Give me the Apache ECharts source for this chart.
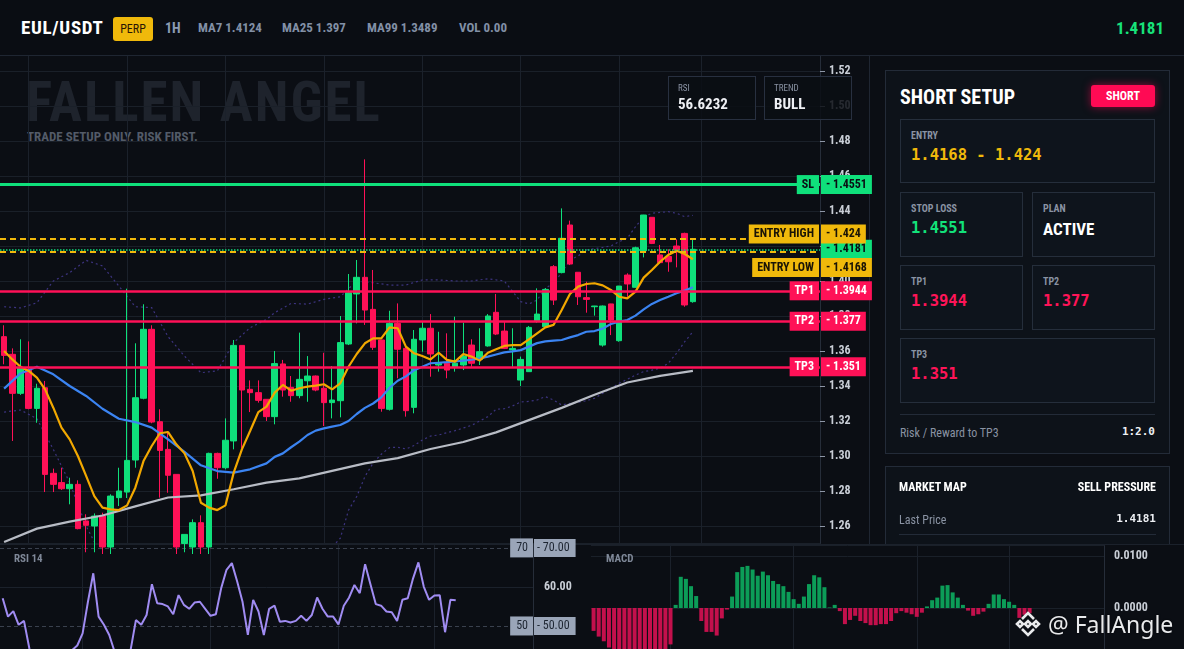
<!DOCTYPE html>
<html>
<head>
<meta charset="utf-8">
<title>EUL/USDT short setup</title>
<script src="https://cdn.jsdelivr.net/npm/echarts@6.0.0/dist/echarts.min.js"></script>
<style>
  html, body { margin: 0; padding: 0; }
  body {
    width: 1184px; height: 649px; overflow: hidden; position: relative;
    background: #0b0e14;
    font-family: "Liberation Sans Narrow", "Roboto Condensed", Roboto, sans-serif;
    color: #e8ebf0;
  }
  /* taller than the window on purpose: the lower panels run past the bottom edge */
  #chart { position: absolute; left: 0; top: 0; width: 1184px; height: 700px; z-index: 2; }

  #header { position: absolute; left: 0; top: 0; width: 1184px; height: 55px; background: #0a0d13; border-bottom: 1px solid #1f2632; z-index: 5; }
  .hd { position: absolute; top: 0; line-height: 56px; white-space: nowrap; }
  #pair { left: 21px; font-size: 19px; font-weight: bold; color: #fff; letter-spacing: 0.7px; }
  #perp { left: 113px; top: 17px; width: 40px; height: 24px; line-height: 24px; text-align: center; background: #f0b90b; border-radius: 3px; font-size: 12px; color: #2a1505; }
  #tf { left: 165px; font-size: 14px; font-weight: bold; color: #8b9bb3; }
  .ma { font-size: 13px; font-weight: bold; color: #8290a6; }
  #lastTop { right: 20px; font-size: 17px; font-weight: bold; color: #17e27a; }

  #frameV { position: absolute; left: 869px; top: 56px; width: 1px; height: 488px; background: #1f2632; z-index: 1; }
  #frameH { position: absolute; left: 0; top: 544px; width: 1184px; height: 1px; background: #1b212b; z-index: 1; }

  #wmBig { position: absolute; left: 26px; top: 72px; font-size: 55px; line-height: 60px; font-weight: bold; color: #1e232c; letter-spacing: 2px; z-index: 1; white-space: nowrap; }
  #wmSmall { position: absolute; left: 27px; top: 129px; font-size: 13px; line-height: 16px; font-weight: bold; color: #535b68; z-index: 1; white-space: nowrap; }

  .stat { position: absolute; top: 76px; width: 86px; height: 42px; border: 1px solid #283040; background: rgba(11,14,20,0.86); z-index: 3; }
  .stat .k { position: absolute; left: 9px; top: 6px; font-size: 9px; color: #8a93a3; }
  .stat .v { position: absolute; left: 9px; top: 18px; font-size: 15px; font-weight: bold; color: #eef0f4; }

  #side { position: absolute; left: 871px; top: 56px; width: 313px; height: 488px; overflow: hidden; z-index: 3; }
  .card { position: absolute; left: 14px; width: 283px; background: #0d1219; border: 1px solid #232b38; }
  .box { position: absolute; background: #0e141c; border: 1px solid #252e3b; }
  .lbl { position: absolute; left: 10px; top: 9px; font-size: 10px; line-height: 14px; color: #8a93a3; font-weight: bold; }
  .val { position: absolute; left: 10px; top: 26px; line-height: 20px; font: bold 15.5px "DejaVu Sans Mono", monospace; }
  .yel { color: #f0b90b; } .grn { color: #12e27a; } .red { color: #ff1458; }
  #title { position: absolute; left: 14px; top: 14px; font-size: 20px; line-height: 24px; font-weight: bold; color: #fff; }
  #btn { position: absolute; left: 205px; top: 14px; width: 64px; height: 22px; line-height: 22px; text-align: center; background: #ff0a54; border-radius: 3px; font-size: 12px; font-weight: bold; color: #fff; box-shadow: 0 0 8px rgba(255,10,84,0.55); }
  .sep { position: absolute; left: 14px; width: 255px; height: 1px; background: #232b38; }
  .row { position: absolute; font-size: 12px; line-height: 16px; white-space: nowrap; }
  .mono { font: bold 11px "DejaVu Sans Mono", monospace; color: #eef0f4; }

  .panelTag { position: absolute; font-size: 11px; color: #7f8898; z-index: 3; font-weight: bold; }
  #brand { position: absolute; left: 1014px; top: 606px; height: 36px; z-index: 6; white-space: nowrap; }
  #brand svg { position: absolute; left: 0; top: 4px; }
  #brand span { position: absolute; left: 34px; top: 0; font-family: "Noto Sans", "Open Sans", sans-serif; font-size: 23px; line-height: 36px; color: #e9eaec; text-shadow: 0 0 2px rgba(0,0,0,0.6); }
</style>
</head>
<body>

<div id="header">
  <div class="hd" id="pair">EUL/USDT</div>
  <div class="hd" id="perp">PERP</div>
  <div class="hd" id="tf">1H</div>
  <div class="hd ma" style="left:198px">MA7 1.4124</div>
  <div class="hd ma" style="left:282px">MA25 1.397</div>
  <div class="hd ma" style="left:367px">MA99 1.3489</div>
  <div class="hd ma" style="left:459px">VOL 0.00</div>
  <div class="hd" id="lastTop">1.4181</div>
</div>

<div id="wmBig">FALLEN ANGEL</div>
<div id="wmSmall">TRADE SETUP ONLY. RISK FIRST.</div>
<div id="frameV"></div>
<div id="frameH"></div>

<div class="stat" style="left:668px"><div class="k">RSI</div><div class="v">56.6232</div></div>
<div class="stat" style="left:764px"><div class="k">TREND</div><div class="v">BULL</div></div>

<div id="side">
  <div class="card" style="top:14px;height:382px;">
    <div id="title">SHORT SETUP</div>
    <div id="btn">SHORT</div>
    <div class="box" style="left:14px;top:48px;width:253px;height:62px;"><div class="lbl">ENTRY</div><div class="val yel" id="vEntry"></div></div>
    <div class="box" style="left:14px;top:121px;width:121px;height:63px;"><div class="lbl">STOP LOSS</div><div class="val grn" id="vSL"></div></div>
    <div class="box" style="left:146px;top:121px;width:121px;height:63px;"><div class="lbl">PLAN</div><div class="val" style="font:bold 17px 'Liberation Sans Narrow','Roboto Condensed',Roboto,sans-serif;color:#fff;">ACTIVE</div></div>
    <div class="box" style="left:14px;top:194px;width:121px;height:63px;"><div class="lbl">TP1</div><div class="val red" id="vTP1"></div></div>
    <div class="box" style="left:146px;top:194px;width:121px;height:63px;"><div class="lbl">TP2</div><div class="val red" id="vTP2"></div></div>
    <div class="box" style="left:14px;top:267px;width:253px;height:63px;"><div class="lbl">TP3</div><div class="val red" id="vTP3"></div></div>
    <div class="sep" style="top:343px"></div>
    <div class="row" style="left:14px;top:354px;color:#8a93a3;">Risk / Reward to TP3</div>
    <div class="row mono" style="right:14px;top:354px;">1:2.0</div>
  </div>
  <div class="card" style="top:410px;height:120px;">
    <div class="row" style="left:13px;top:12px;font-weight:bold;color:#fff;">MARKET MAP</div>
    <div class="row" style="right:13px;top:12px;font-weight:bold;color:#fff;">SELL PRESSURE</div>
    <div class="row" style="left:13px;top:45px;color:#8a93a3;">Last Price</div>
    <div class="row mono" style="right:13px;top:45px;" id="vLast"></div>
    <div class="sep" style="top:67px;left:13px;width:257px;"></div>
  </div>
</div>

<div class="panelTag" style="left:14px;top:552px;">RSI 14</div>
<div class="panelTag" style="left:606px;top:552px;">MACD</div>

<div id="brand">
  <svg width="28" height="28" viewBox="0 0 28 28">
    <g fill="none" stroke="#e9eaec" stroke-width="2.6" stroke-linejoin="miter">
      <path d="M8 9 L14 3 L20 9"/>
      <path d="M8 19 L14 25 L20 19"/>
      <path d="M3 14 L6 11 L9 14 L6 17 Z"/>
      <path d="M19 14 L22 11 L25 14 L22 17 Z"/>
      <path d="M11 14 L14 11 L17 14 L14 17 Z"/>
    </g>
  </svg>
  <span>@ FallAngle</span>
</div>

<div id="chart"></div>

<script>
// ---- candles (1H), index 0 = leftmost visible candle
var opens = [1.3682,1.3581,1.3358,1.3491,1.3272,1.3390,1.2901,1.2848,1.2813,1.2838,
  1.2629,1.2600,1.2657,1.2480,1.2762,1.2794,1.2977,1.3330,1.3724,1.3196,
  1.3038,1.2895,1.2500,1.2480,1.2619,1.2480,1.3015,1.2933,1.3086,1.3632,
  1.3381,1.3362,1.3324,1.3225,1.3526,1.3392,1.3345,1.3430,1.3457,1.3387,
  1.3305,1.3316,1.3640,1.3926,1.4021,1.3838,1.3663,1.3267,1.3758,1.3615,
  1.3278,1.3663,1.3730,1.3520,1.3530,1.3507,1.3520,1.3634,1.3552,1.3629,
  1.3821,1.3714,1.3606,1.3434,1.3482,1.3773,1.3739,1.4082,1.4048,1.4320,
  1.4050,1.3905,1.3853,1.3634,1.3869,1.3659,1.4034,1.3964,1.4173,1.4364,
  1.4149,1.4140,1.4200,1.4272,1.3882];
var closes = [1.3575,1.3358,1.3505,1.3272,1.3387,1.2895,1.2838,1.2813,1.2838,1.2585,
  1.2604,1.2657,1.2480,1.2771,1.2800,1.2975,1.3333,1.3724,1.3194,1.3032,
  1.2890,1.2480,1.2552,1.2619,1.2480,1.3015,1.2933,1.3090,1.3632,1.3377,
  1.3362,1.3318,1.3225,1.3528,1.3377,1.3345,1.3438,1.3457,1.3377,1.3305,
  1.3320,1.3648,1.3933,1.4021,1.3834,1.3621,1.3272,1.3758,1.3610,1.3259,
  1.3667,1.3730,1.3583,1.3530,1.3491,1.3530,1.3571,1.3530,1.3596,1.3800,
  1.3697,1.3615,1.3615,1.3552,1.3735,1.3811,1.3952,1.3891,1.4244,1.4097,
  1.3910,1.3895,1.3857,1.3857,1.3777,1.3971,1.3983,1.4190,1.4377,1.4215,
  1.4105,1.4110,1.4177,1.3863,1.4181];
var lows = [1.3524,1.3086,1.3349,1.3267,1.3190,1.2794,1.2794,1.2806,1.2724,1.2581,
  1.2450,1.2450,1.2440,1.2440,1.2714,1.2760,1.2933,1.3324,1.3187,1.2762,
  1.2790,1.2440,1.2450,1.2440,1.2440,1.2440,1.2870,1.2924,1.3038,1.3042,
  1.3251,1.3305,1.3200,1.3181,1.3339,1.3310,1.3330,1.3310,1.3370,1.3171,
  1.3215,1.3221,1.3634,1.3758,1.3749,1.3606,1.3253,1.3260,1.3444,1.3225,
  1.3244,1.3596,1.3453,1.3482,1.3444,1.3482,1.3491,1.3510,1.3520,1.3625,
  1.3691,1.3611,1.3510,1.3400,1.3480,1.3762,1.3735,1.3863,1.4044,1.4091,
  1.3863,1.3819,1.3802,1.3625,1.3691,1.3653,1.3910,1.3962,1.4135,1.4211,
  1.4101,1.4053,1.4078,1.3853,1.3876];
var highs = [1.3747,1.3615,1.3667,1.3655,1.3413,1.3429,1.2928,1.2933,1.2876,1.2861,
  1.2667,1.2672,1.2676,1.2781,1.2933,1.3956,1.3644,1.3867,1.3747,1.3267,
  1.3143,1.2895,1.2552,1.2638,1.2661,1.3019,1.3019,1.3215,1.3663,1.3632,
  1.3432,1.3432,1.3324,1.3600,1.3549,1.3457,1.3705,1.3571,1.3460,1.3590,
  1.3514,1.3800,1.4040,1.4120,1.4695,1.4063,1.3663,1.3830,1.3872,1.3625,
  1.3720,1.3768,1.3811,1.3710,1.3701,1.3796,1.3762,1.3667,1.3730,1.3811,
  1.3926,1.3768,1.3730,1.3568,1.3743,1.3958,1.3960,1.4091,1.4415,1.4345,
  1.4050,1.3996,1.3858,1.3860,1.3870,1.3972,1.4044,1.4196,1.4378,1.4365,
  1.4206,1.4181,1.4238,1.4276,1.4238];

// ---- overlays ([candle index, price] where not every candle was read)
var ma7 = [1.3600,1.3552,1.3510,1.3486,1.3448,1.3381,1.3276,1.3162,1.3095,1.3000,
  1.2886,1.2771,1.2705,1.2695,1.2691,1.2718,1.2819,1.2971,1.3057,1.3130,
  1.3137,1.3067,1.3015,1.2914,1.2733,1.2705,1.2691,1.2718,1.2905,1.3038,
  1.3143,1.3251,1.3282,1.3362,1.3406,1.3373,1.3387,1.3396,1.3402,1.3410,
  1.3381,1.3415,1.3510,1.3583,1.3644,1.3672,1.3672,1.3735,1.3730,1.3625,
  1.3587,1.3571,1.3552,1.3590,1.3549,1.3539,1.3583,1.3568,1.3545,1.3590,
  1.3610,1.3629,1.3634,1.3634,1.3667,1.3701,1.3735,1.3749,1.3834,1.3926,
  1.3968,1.3983,1.3987,1.3975,1.3949,1.3910,1.3901,1.3939,1.4019,1.4063,
  1.4110,1.4149,1.4173,1.4154,1.4124];
var ma25 = [[0,1.3385],[2,1.3472],[4,1.3510],[6,1.3467],[8,1.3400],[10,1.3343],[12,1.3270],
  [14,1.3213],[16,1.3194],[18,1.3162],[20,1.3095],[22,1.3023],[24,1.2947],[26,1.2914],
  [28,1.2905],[30,1.2924],[32,1.2958],[33,1.2995],[34,1.3015],[35,1.3050],[36,1.3082],
  [37,1.3120],[38,1.3145],[39,1.3158],[40,1.3168],[41,1.3177],[42,1.3200],[43,1.3240],
  [44,1.3275],[45,1.3300],[46,1.3335],[47,1.3390],[48,1.3430],[49,1.3455],[50,1.3490],
  [51,1.3510],[52,1.3530],[53,1.3533],[54,1.3536],[55,1.3540],[56,1.3545],[57,1.3550],
  [58,1.3558],[59,1.3568],[60,1.3580],[61,1.3592],[62,1.3598],[63,1.3605],[64,1.3625],
  [65,1.3645],[66,1.3655],[67,1.3659],[68,1.3663],[69,1.3678],[70,1.3691],[71,1.3710],
  [72,1.3714],[73,1.3728],[74,1.3754],[75,1.3768],[76,1.3777],[77,1.3802],[78,1.3838],
  [79,1.3869],[80,1.3891],[81,1.3910],[82,1.3930],[83,1.3945],[84,1.3964]];
var ma99 = [[0,1.2509],[4,1.2585],[8,1.2625],[12,1.2660],[16,1.2712],[20,1.2763],[24,1.2775],
  [28,1.2810],[32,1.2848],[36,1.2872],[40,1.2915],[44,1.2958],[48,1.2988],[52,1.3040],
  [56,1.3080],[60,1.3135],[64,1.3205],[68,1.3275],[72,1.3350],[76,1.3420],[80,1.3458],[84,1.3486]];
var bbUpper = [[0,1.3853],[2,1.3846],[4,1.3876],[6,1.4000],[8,1.4048],[10,1.4118],[12,1.4086],
  [14,1.3971],[16,1.3853],[18,1.3848],[20,1.3682],[22,1.3571],[24,1.3476],[26,1.3486],
  [28,1.3648],[30,1.3733],[32,1.3781],[33,1.3819],[35,1.3872],[37,1.3868],[39,1.3895],
  [41,1.3910],[43,1.4000],[45,1.3990],[47,1.3977],[49,1.3977],[51,1.4006],[53,1.4006],
  [55,1.4000],[57,1.4000],[59,1.4013],[61,1.4000],[63,1.3882],[64,1.3869],[65,1.3891],
  [66,1.3958],[67,1.3987],[68,1.4048],[69,1.4120],[70,1.4143],[71,1.4177],[72,1.4185],
  [73,1.4192],[74,1.4200],[75,1.4225],[76,1.4244],[77,1.4310],[78,1.4368],[79,1.4387],
  [80,1.4392],[81,1.4396],[82,1.4387],[83,1.4368],[84,1.4375]];
var bbLower = [[0,1.3251],[2,1.3263],[4,1.3213],[6,1.3038],[8,1.2848],[10,1.2600],[12,1.2420],
  [16,1.2150],[20,1.1950],[24,1.1900],[28,1.1950],[32,1.2050],[36,1.2250],[40,1.2480],
  [41,1.2530],[42,1.2690],[43,1.2768],[44,1.2882],[45,1.2960],[46,1.3010],[47,1.3048],
  [48,1.3050],[49,1.3040],[50,1.3060],[51,1.3091],[52,1.3114],[53,1.3120],[54,1.3133],
  [55,1.3145],[56,1.3160],[57,1.3175],[58,1.3200],[59,1.3225],[60,1.3267],[61,1.3270],
  [62,1.3286],[63,1.3309],[64,1.3312],[65,1.3320],[66,1.3339],[67,1.3320],[68,1.3291],
  [69,1.3301],[70,1.3307],[71,1.3316],[72,1.3330],[73,1.3358],[74,1.3387],[75,1.3415],
  [76,1.3438],[77,1.3463],[78,1.3482],[79,1.3491],[80,1.3501],[81,1.3530],[82,1.3587],
  [83,1.3653],[84,1.3710]];

// ---- trade plan levels
var levelNames = ['SL', 'ENTRY HIGH', 'ENTRY LOW', 'TP1', 'TP2', 'TP3'];
var levelValues = [1.4551, 1.424, 1.4168, 1.3944, 1.377, 1.351];
var lastPrice = 1.4181;

// ---- lower panels
var rsi = [57.1,52.4,53.8,50.3,51.3,44.3,38,34,31,33,
  30,34,39,43.8,45.0,48.1,56.2,63.5,52.4,50.3,
  47.7,43.4,38,40,43.8,51.5,50.3,52.8,60.7,55.8,
  55.6,55.0,53.0,57.9,55.4,54.4,56.0,56.2,54.4,52.6,
  53.0,59.7,64.4,66.1,61.4,56.2,47.7,56.7,53.7,47.7,
  54.4,55.2,51.1,51.3,50.9,51.3,52.6,51.3,52.8,57.3,
  54.4,52.4,52.4,50.4,55.2,57.3,60.5,58.4,65.8,60.7,
  55.6,55.2,53.7,53.5,51.3,56.7,57.1,62.2,66.3,60.1,
  56.7,57.8,57.9,48.4,56.7,56.6];
var rsiLevels = [70, 60, 50];
var macdHist = [-0.0044,-0.0055,-0.0064,-0.0076,-0.0084,-0.0088,-0.0090,-0.0091,-0.0090,-0.0088,
  -0.0087,-0.0085,-0.0083,-0.0081,-0.0080,-0.0070,0.0006,0.0060,0.0056,0.0042,
  0.0023,-0.0025,-0.0046,-0.0046,-0.0053,-0.0020,-0.0003,0.0022,0.0069,0.0079,
  0.0081,0.0074,0.0062,0.0070,0.0063,0.0052,0.0046,0.0042,0.0031,0.0017,
  0.0008,0.0022,0.0046,0.0063,0.0059,0.0040,0.0001,0.0006,-0.0006,-0.0031,
  -0.0023,-0.0015,-0.0025,-0.0029,-0.0033,-0.0033,-0.0031,-0.0031,-0.0025,-0.0010,
  -0.0006,-0.0009,-0.0012,-0.0017,-0.0009,0.0003,0.0015,0.0020,0.0043,0.0044,
  0.0030,0.0020,0.0006,-0.0005,-0.0015,-0.0012,-0.0007,0.0008,0.0026,0.0026,
  0.0017,0.0012,0.0006,-0.0019,-0.0013,-0.0010];

// time grid lines (slot indexes)
var mainGridLines = [3, 15, 27, 39, 51, 63, 75, 85];
var subGridLines = [15, 39, 63, 81];

var FONT = '"Liberation Sans Narrow", "Roboto Condensed", Roboto, sans-serif';
var UP = '#0fe07b', DOWN = '#ff1157';

// side panel text from the same levels
document.getElementById('vEntry').textContent = levelValues[2] + ' - ' + levelValues[1];
document.getElementById('vSL').textContent = levelValues[0];
document.getElementById('vTP1').textContent = levelValues[3];
document.getElementById('vTP2').textContent = levelValues[4];
document.getElementById('vTP3').textContent = levelValues[5];
document.getElementById('vLast').textContent = lastPrice;

var slots = [];
for (var s = 0; s < 100; s++) slots.push(String(s));

var candleData = opens.map(function (o, i) { return [o, closes[i], lows[i], highs[i]]; });

var levelStyle = {
  'SL':         { color: '#0fe07b', width: 3,   type: 'solid', text: '#0b0e14', shift: 0 },
  'ENTRY HIGH': { color: '#f0b90b', width: 2,   type: [6, 4],  text: '#1a1406', shift: -5 },
  'ENTRY LOW':  { color: '#f0b90b', width: 2,   type: [6, 4],  text: '#1a1406', shift: 16 },
  'TP1':        { color: '#ff1157', width: 2.5, type: 'solid', text: '#ffffff', shift: 0 },
  'TP2':        { color: '#ff1157', width: 2.5, type: 'solid', text: '#ffffff', shift: 0 },
  'TP3':        { color: '#ff1157', width: 2.5, type: 'solid', text: '#ffffff', shift: 0 }
};

function tag(text, bg, fg, pos, shift) {
  return {
    show: true, position: pos, distance: 1, formatter: text,
    backgroundColor: bg, color: fg, padding: [3, 5, 3, 5],
    fontSize: 12, lineHeight: 13, fontWeight: 'bold', fontFamily: FONT,
    offset: [0, shift || 0]
  };
}

var levelItems = [];
levelNames.forEach(function (name, i) {
  var st = levelStyle[name];
  var v = levelValues[i];
  levelItems.push({ yAxis: v, lineStyle: { color: st.color, width: st.width, type: st.type },
    label: tag(name, st.color, st.text, 'insideEnd', st.shift) });
  levelItems.push({ yAxis: v, lineStyle: { color: 'rgba(0,0,0,0)', width: 1 },
    label: tag('- ' + v, st.color, st.text, 'end', st.shift) });
});
levelItems.splice(2, 0, { yAxis: lastPrice, lineStyle: { color: UP, width: 1.5, type: 'dotted' },
  label: tag('- ' + lastPrice, UP, '#0b0e14', 'end', 0) });

function vLines(list) {
  return list.map(function (i) { return { xAxis: i }; });
}

var gridLineStyle = { color: '#1b212b', width: 1, type: 'solid' };

var rsiMarks = vLines(subGridLines).concat(rsiLevels.map(function (lv) {
  var edge = lv !== 60;
  return {
    yAxis: lv,
    lineStyle: edge ? { color: '#3a414e', width: 1, type: [4, 3] } : gridLineStyle,
    label: edge ? { show: true, position: 'insideEnd', distance: 0, formatter: String(lv),
      backgroundColor: '#9aa5b8', color: '#1d2531', padding: [3, 5, 3, 6], fontSize: 12,
      lineHeight: 13, fontFamily: FONT } : { show: false }
  };
}));

var option = {
  backgroundColor: 'transparent',
  animation: false,
  textStyle: { fontFamily: FONT },
  grid: [
    { left: 0, top: 53.5, width: 820, height: 490 },
    { left: -2, top: 544, width: 535, height: 121 },
    { left: 591, top: 545.6, width: 513, height: 114.4 }
  ],
  xAxis: [0, 1, 2].map(function (g) {
    return { type: 'category', gridIndex: g, data: slots, show: false, boundaryGap: true };
  }),
  yAxis: [
    {
      gridIndex: 0, type: 'value', position: 'right', min: 1.25, max: 1.53, splitNumber: 14,
      axisLine: { show: true, lineStyle: { color: '#262d39' } },
      axisTick: { show: true, length: 5, lineStyle: { color: '#8d96a6' } },
      axisLabel: { color: '#c9ced6', fontSize: 12, fontWeight: 'bold', margin: 9,
        showMinLabel: false, showMaxLabel: false,
        formatter: function (v) { return v.toFixed(2); } },
      splitLine: { show: true, lineStyle: { color: '#1a2029' } }
    },
    {
      gridIndex: 1, type: 'value', position: 'right', min: 40, max: 71, interval: 10,
      axisLine: { show: true, lineStyle: { color: '#262d39' } },
      axisTick: { show: false }, splitLine: { show: false },
      axisLabel: {
        margin: 1, showMaxLabel: false,
        formatter: function (v) {
          if (v === 60) return '{p|60.00}';
          if (v === 70 || v === 50) return '{b|- ' + v.toFixed(2) + '}';
          return '';
        },
        rich: {
          p: { color: '#c9ced6', fontSize: 12, fontWeight: 'bold', padding: [0, 0, 0, 10], fontFamily: FONT },
          b: { color: '#1d2531', backgroundColor: '#9aa5b8', fontSize: 12, padding: [3, 6, 3, 3], lineHeight: 13, fontFamily: FONT }
        }
      }
    },
    {
      gridIndex: 2, type: 'value', position: 'right', min: -0.01, max: 0.012, interval: 0.01,
      axisLine: { show: true, lineStyle: { color: '#262d39' } },
      axisTick: { show: false },
      axisLabel: { color: '#c9ced6', fontSize: 12, fontWeight: 'bold', margin: 10, showMaxLabel: false,
        formatter: function (v) {
          return (Math.abs(v) < 1e-9 || Math.abs(v - 0.01) < 1e-9) ? v.toFixed(4) : '';
        } },
      splitLine: { show: true, lineStyle: { color: '#1a2029' } }
    }
  ],
  series: [
    {
      name: 'time grid', type: 'line', xAxisIndex: 0, yAxisIndex: 0, data: [], silent: true,
      markLine: { silent: true, z: 1, symbol: ['none', 'none'], label: { show: false },
        lineStyle: gridLineStyle, data: vLines(mainGridLines) }
    },
    {
      name: 'EUL/USDT', type: 'candlestick', xAxisIndex: 0, yAxisIndex: 0, data: candleData,
      barWidth: 6, z: 3,
      itemStyle: { color: UP, color0: DOWN, borderColor: UP, borderColor0: DOWN, borderWidth: 1 }
    },
    { name: 'BB upper', type: 'line', data: bbUpper, symbol: 'none', silent: true, z: 3,
      lineStyle: { color: '#3d3480', width: 1.2, type: [2, 3] } },
    { name: 'BB lower', type: 'line', data: bbLower, symbol: 'none', silent: true, z: 3,
      lineStyle: { color: '#3d3480', width: 1.2, type: [2, 3] } },
    { name: 'MA99', type: 'line', data: ma99, symbol: 'none', silent: true, z: 4,
      lineStyle: { color: '#b8bcc5', width: 2.2 } },
    { name: 'MA25', type: 'line', data: ma25, symbol: 'none', silent: true, z: 4,
      lineStyle: { color: '#3b84f2', width: 2.2 } },
    { name: 'MA7', type: 'line', data: ma7, symbol: 'none', silent: true, z: 4,
      lineStyle: { color: '#f2a800', width: 2.2 } },
    {
      name: 'levels', type: 'line', xAxisIndex: 0, yAxisIndex: 0, data: [], silent: true,
      markLine: { silent: true, z: 6, precision: 4, symbol: ['none', 'none'], data: levelItems }
    },
    {
      name: 'RSI 14', type: 'line', xAxisIndex: 1, yAxisIndex: 1, data: rsi, symbol: 'none', silent: true,
      lineStyle: { color: '#a08cf2', width: 2 },
      markLine: { silent: true, z: 1, symbol: ['none', 'none'], label: { show: false },
        lineStyle: gridLineStyle, data: rsiMarks }
    },
    {
      name: 'MACD', type: 'bar', xAxisIndex: 2, yAxisIndex: 2, barWidth: 4, silent: true,
      data: macdHist.map(function (v) {
        return { value: v, itemStyle: { color: v >= 0 ? '#0c9d58' : '#c3104c' } };
      }),
      markLine: { silent: true, z: 1, symbol: ['none', 'none'], label: { show: false },
        lineStyle: gridLineStyle, data: vLines(subGridLines) }
    }
  ]
};

var chart = echarts.init(document.getElementById('chart'));
chart.setOption(option);
</script>
</body>
</html>
